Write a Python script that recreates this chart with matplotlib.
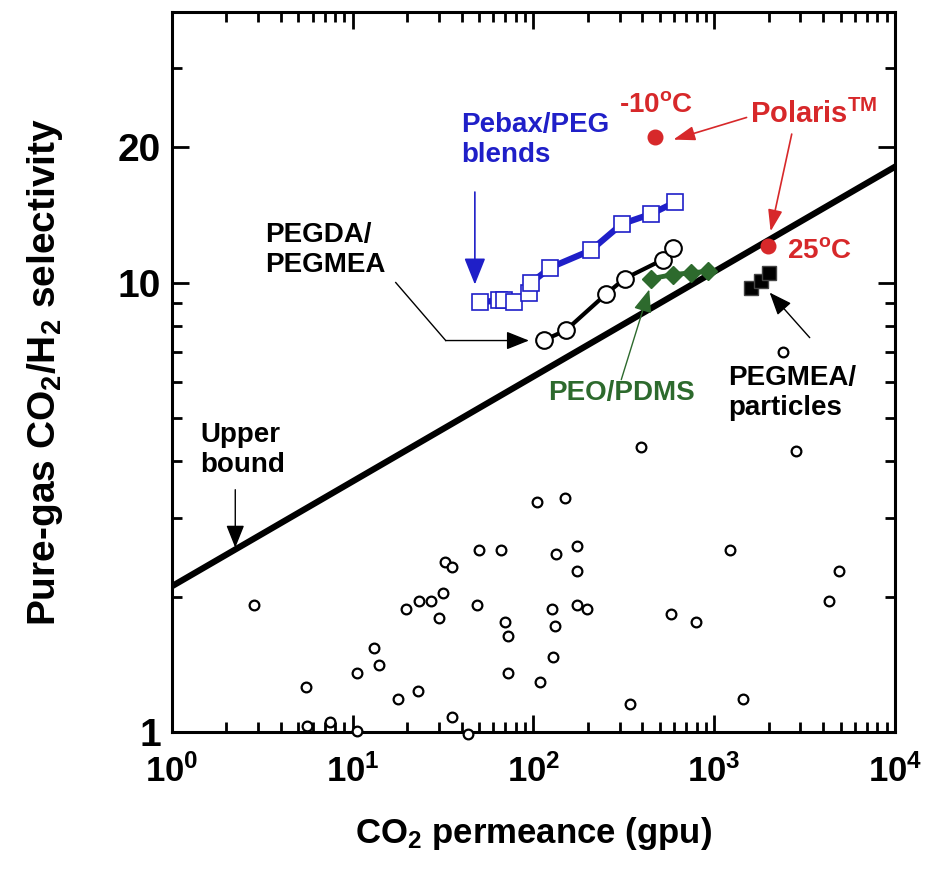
import matplotlib
matplotlib.use("Agg")
import matplotlib.pyplot as plt

plt.rcParams['font.family'] = ['Liberation Sans', 'DejaVu Sans']
plt.rcParams['font.weight'] = 'bold'
plt.rcParams['mathtext.fontset'] = 'custom'
plt.rcParams['mathtext.rm'] = 'Liberation Sans:bold'
plt.rcParams['mathtext.it'] = 'Liberation Sans:bold'
plt.rcParams['mathtext.bf'] = 'Liberation Sans:bold'
plt.rcParams['mathtext.default'] = 'rm'

# literature membranes (small open circles)
lit_perm = [2.86, 5.54, 5.59, 7.53, 10.5, 10.6, 13.1, 13.9, 17.8, 19.8,
            22.9, 23.3, 27.0, 30.0, 31.4, 32.3, 35.3, 35.3, 43.2, 48.6,
            49.8, 66.0, 69.2, 72.5, 72.5, 104, 108, 126, 134, 132,
            129, 150, 174, 174, 175, 197, 391, 344, 579, 790,
            1220, 1447, 2823, 2391, 4288, 4909]
lit_sel = [1.915, 1.26, 1.031, 1.054, 1.005, 1.351, 1.536, 1.41, 1.183, 1.876,
           1.236, 1.958, 1.958, 1.797, 2.043, 2.391, 2.334, 1.082, 0.99, 1.915,
           2.543, 2.543, 1.758, 1.639, 1.351, 3.242, 1.29, 1.876, 2.491, 1.722,
           1.472, 3.308, 2.599, 2.284, 1.915, 1.876, 4.306, 1.156, 1.834, 1.758,
           2.543, 1.183, 4.21, 7.02, 1.958, 2.284]

# Pebax/PEG blends
pebax_perm = [50.7, 64.6, 68.9, 78.3, 94.8, 96.9, 124, 208, 308, 445, 610]
pebax_sel = [9.04, 9.13, 9.13, 9.04, 9.49, 9.98, 10.8, 11.8, 13.5, 14.2, 15.1]

# PEGDA/PEGMEA
pegda_perm = [114, 151, 253, 319, 521, 592]
pegda_sel = [7.44, 7.83, 9.44, 10.2, 11.25, 11.95]

# PEO/PDMS
peo_perm = [449, 592, 748, 926]
peo_sel = [10.2, 10.42, 10.51, 10.6]

# PEGMEA/particles
part_perm = [1589, 1806, 2000]
part_sel = [9.73, 10.07, 10.5]

# Polaris (-10 C, 25 C)
polaris_perm = [472, 1974]
polaris_sel = [21.1, 12.05]

# upper bound
bound_perm = [1, 1e4]
bound_sel = [2.11, 18.1]

blue = '#1f1fc8'
red = '#d7282a'
green = '#2d6a2d'

fig = plt.figure(figsize=(9.26, 8.69), dpi=100)
ax = fig.add_axes([0.1857, 0.1577, 0.7808, 0.8285])

ax.plot(lit_perm, lit_sel, 'o', ms=7, mfc='white', mec='k', mew=1.6, clip_on=False, zorder=3)
ax.plot(bound_perm, bound_sel, '-', color='k', lw=4.5, zorder=2)

ax.plot(pebax_perm, pebax_sel, '-s', color=blue, lw=4.5, ms=11, mfc='white', mec=blue, mew=1.2, zorder=4)
ax.plot(pegda_perm, pegda_sel, '-o', color='k', lw=3, ms=12, mfc='white', mec='k', mew=1.5, zorder=4)
ax.plot(peo_perm, peo_sel, '-D', color=green, lw=3.5, ms=9, mfc=green, mec=green, zorder=4)
ax.plot(part_perm, part_sel, 's', color='k', ms=10.5, mec='#444444', zorder=4)
ax.plot(polaris_perm, polaris_sel, 'o', color=red, ms=10.5, zorder=5)

ax.set_xscale('log')
ax.set_yscale('log')
ax.set_xlim(1, 1e4)
ax.set_ylim(1, 40)

ax.set_xticks([1, 10, 100, 1000, 10000], ['$10^{0}$', '$10^{1}$', '$10^{2}$', '$10^{3}$', '$10^{4}$'])
ax.set_xticks([m * d for d in [1, 10, 100, 1000] for m in range(2, 10)], minor=True)
ax.set_xticklabels([], minor=True)
ax.set_yticks([1, 10, 20], ['1', '10', '20'])
ax.set_yticks([2, 3, 4, 5, 6, 7, 8, 9, 30, 40], minor=True)
ax.set_yticklabels([], minor=True)

ax.tick_params(which='both', direction='in', top=True, right=True, width=2)
ax.tick_params(which='major', length=12)
ax.tick_params(which='minor', length=7)
ax.tick_params(axis='x', which='major', labelsize=25, pad=16)
ax.tick_params(axis='y', which='major', labelsize=28, pad=8)
for s in ax.spines.values():
    s.set_linewidth(2.2)

ax.set_xlabel('CO$_2$ permeance (gpu)', fontsize=25, fontweight='bold', labelpad=19)
ax.set_ylabel('Pure-gas CO$_2$/H$_2$ selectivity', fontsize=28, fontweight='bold', labelpad=38)


def arrow(x0, y0, x1, y1, color='k', lw=1.0, style='-|>,head_length=0.5,head_width=0.2', ms=28):
    ax.annotate('', xy=(x1, y1), xytext=(x0, y0),
                arrowprops=dict(arrowstyle=style, color=color, lw=lw, mutation_scale=ms,
                                shrinkA=0, shrinkB=0), zorder=6)


# labels and arrows
ax.text(39.6, 20.8, 'Pebax/PEG\nblends', color=blue, fontsize=20, fontweight='bold',
        ha='left', va='center', linespacing=1.2)
arrow(47.4, 15.9, 47.4, 9.9, color=blue, lw=1.2, style='-|>,head_length=0.55,head_width=0.22', ms=30)

ax.text(3.28, 11.8, 'PEGDA/\nPEGMEA', color='k', fontsize=20, fontweight='bold',
        ha='left', va='center', linespacing=1.2)
ax.plot([17.3, 32.7], [10.0, 7.43], color='k', lw=1.0)
arrow(32.7, 7.43, 94.4, 7.43)

ax.text(120, 5.69, 'PEO/PDMS', color=green, fontsize=20, fontweight='bold', ha='left', va='center')
arrow(306, 6.08, 437, 9.65, color=green)

ax.text(1199, 5.69, 'PEGMEA/\nparticles', color='k', fontsize=20, fontweight='bold',
        ha='left', va='center', linespacing=1.2)
arrow(3376, 7.54, 2026, 9.5)

ax.text(1.43, 4.25, 'Upper\nbound', color='k', fontsize=20, fontweight='bold',
        ha='left', va='center', linespacing=1.2)
arrow(2.24, 3.46, 2.24, 2.57)

ax.text(478, 24.9, '-10$^{\\rm o}$C', color=red, fontsize=20, fontweight='bold', ha='center', va='center')
ax.text(1569, 23.7, 'Polaris$^{\\rm TM}$', color=red, fontsize=21, fontweight='bold', ha='left', va='center')
ax.text(2517, 11.73, '25$^{\\rm o}$C', color=red, fontsize=20, fontweight='bold', ha='left', va='center')
arrow(1510, 23.3, 594, 20.8, color=red, lw=1.2, style='-|>,head_length=0.6,head_width=0.2', ms=22)
arrow(2684, 21.4, 2051, 13.0, color=red, lw=1.2, style='-|>,head_length=0.6,head_width=0.2', ms=22)

fig.savefig('out.png', dpi=100)
